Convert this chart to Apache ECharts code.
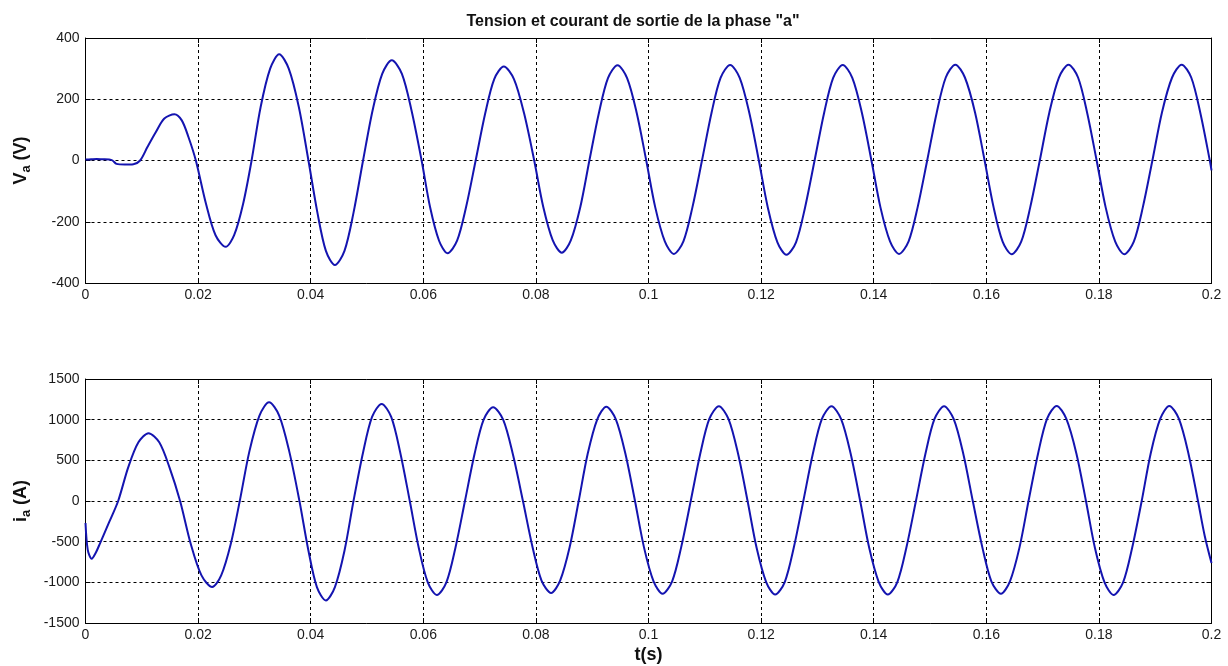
<!DOCTYPE html>
<html>
<head>
<meta charset="utf-8">
<script src="https://cdn.jsdelivr.net/npm/echarts@6/dist/echarts.min.js"></script>
<style>
html,body{margin:0;padding:0;background:#fff;}
#chart{width:1228px;height:666px;}
</style>
</head>
<body>
<div id="chart"></div>
<script>
// Title and axis names
var titleText = 'Tension et courant de sortie de la phase "a"';
var xName = 't(s)';

// Time axis ticks
var xMin = 0, xMax = 0.2, xStep = 0.02;
var vTicks = [-400, -200, 0, 200, 400];
var iTicks = [-1500, -1000, -500, 0, 500, 1000, 1500];

// Voltage V_a (V): [time s, value V]
var voltage = [
  [0,3],[0.001,4],[0.002,5],[0.003,4],[0.0042,3],[0.0048,0],[0.0055,-11],[0.007,-13],[0.0085,-12],[0.0097,0],
  [0.011,44],[0.0125,93],[0.014,137],[0.0158,151],[0.0171,131],[0.0183,76],[0.0196,0],
  [0.0214,-141],[0.0231,-244],[0.0249,-282],[0.0264,-244],[0.0280,-141],[0.0295,0],
  [0.0311,174],[0.0328,300],[0.0344,347],[0.0361,300],[0.0379,174],[0.0396,0],
  [0.0412,-171],[0.0427,-295],[0.0443,-341],[0.0460,-295],[0.0476,-171],[0.0493,0],
  [0.0510,164],[0.0527,283],[0.0544,327],[0.0562,283],[0.0579,164],[0.0597,0],
  [0.0612,-152],[0.0628,-262],[0.0643,-303],[0.0660,-262],[0.0676,-152],[0.0693,0],
  [0.0710,154],[0.0726,266],[0.0743,307],[0.0761,266],[0.0779,154],[0.0797,0],
  [0.0813,-151],[0.0830,-261],[0.0846,-301],[0.0862,-261],[0.0879,-151],[0.0895,0],
  [0.0912,156],[0.0928,269],[0.0945,311],[0.0962,269],[0.0979,156],[0.0996,0],
  [0.1012,-153],[0.1029,-264],[0.1045,-305],[0.1062,-264],[0.1078,-153],[0.1095,0],
  [0.1112,156],[0.1128,270],[0.1145,312],[0.1162,270],[0.1179,156],[0.1196,0],
  [0.1212,-154],[0.1229,-267],[0.1245,-308],[0.1262,-267],[0.1278,-154],[0.1295,0],
  [0.1312,156],[0.1328,270],[0.1345,312],[0.1362,270],[0.1379,156],[0.1396,0],
  [0.1412,-153],[0.1429,-264],[0.1445,-305],[0.1462,-264],[0.1478,-153],[0.1495,0],
  [0.1512,157],[0.1528,271],[0.1545,313],[0.1562,271],[0.1580,157],[0.1597,0],
  [0.1613,-153],[0.1629,-265],[0.1645,-306],[0.1662,-265],[0.1678,-153],[0.1695,0],
  [0.1712,157],[0.1729,271],[0.1746,313],[0.1763,271],[0.1779,157],[0.1796,0],
  [0.1812,-153],[0.1829,-265],[0.1845,-306],[0.1862,-265],[0.1878,-153],[0.1895,0],
  [0.1912,157],[0.1930,271],[0.1947,313],[0.1964,271],[0.1980,157],[0.1997,0],[0.2,-32]
];

// Current i_a (A): [time s, value A]
var current = [
  [0,-271],[0.0004,-600],[0.0011,-710],[0.0018,-640],[0.0026,-517],[0.0042,-260],[0.0058,0],
  [0.0076,417],[0.0094,722],[0.0112,834],[0.0131,722],[0.0149,417],[0.0168,0],
  [0.0187,-529],[0.0206,-915],[0.0225,-1057],[0.0241,-915],[0.0258,-529],[0.0274,0],
  [0.0291,607],[0.0309,1051],[0.0326,1214],[0.0344,1051],[0.0362,607],[0.0380,0],
  [0.0396,-611],[0.0411,-1058],[0.0427,-1222],[0.0443,-1058],[0.0460,-611],[0.0476,0],
  [0.0493,597],[0.0509,1033],[0.0526,1193],[0.0543,1033],[0.0559,597],[0.0576,0],
  [0.0592,-578],[0.0608,-1001],[0.0624,-1156],[0.0641,-1001],[0.0657,-578],[0.0674,0],
  [0.0691,577],[0.0707,998],[0.0724,1153],[0.0742,998],[0.0759,577],[0.0777,0],
  [0.0794,-566],[0.0810,-979],[0.0827,-1131],[0.0843,-979],[0.0860,-566],[0.0876,0],
  [0.0892,580],[0.0909,1005],[0.0925,1160],[0.0942,1005],[0.0959,580],[0.0976,0],
  [0.0992,-570],[0.1009,-987],[0.1025,-1140],[0.1042,-987],[0.1058,-570],[0.1075,0],
  [0.1092,583],[0.1108,1009],[0.1125,1165],[0.1142,1009],[0.1159,583],[0.1176,0],
  [0.1192,-575],[0.1209,-996],[0.1225,-1150],[0.1242,-996],[0.1258,-575],[0.1275,0],
  [0.1292,583],[0.1308,1009],[0.1325,1165],[0.1342,1009],[0.1359,583],[0.1376,0],
  [0.1392,-575],[0.1409,-996],[0.1425,-1150],[0.1442,-996],[0.1458,-575],[0.1475,0],
  [0.1492,583],[0.1508,1009],[0.1525,1165],[0.1542,1009],[0.1559,583],[0.1576,0],
  [0.1593,-570],[0.1609,-987],[0.1626,-1140],[0.1642,-987],[0.1659,-570],[0.1675,0],
  [0.1692,585],[0.1708,1012],[0.1725,1169],[0.1742,1012],[0.1760,585],[0.1777,0],
  [0.1793,-578],[0.1810,-1001],[0.1826,-1156],[0.1843,-1001],[0.1859,-578],[0.1876,0],
  [0.1892,585],[0.1909,1012],[0.1925,1169],[0.1942,1012],[0.1959,585],[0.1976,0],
  [0.1988,-430],[0.2,-763]
];

var FONT = '"Liberation Sans", Arial, sans-serif';
var lineColor = '#1414b0';

function xLabel(v){ return String(+(+v).toFixed(3)); }
function yLabel(v){ return String(Math.round(v)); }

var axisLineStyle = {show:true, onZero:false, lineStyle:{color:'#000', width:1}};
var gridLineStyle = {show:true, lineStyle:{color:'#000', width:1, type:[3,3]}};
var tickStyle = {show:true, inside:true, length:5, lineStyle:{color:'#000'}};

function mainX(gi, showName){
  return {
    type:'value', gridIndex:gi, min:xMin, max:xMax, interval:xStep,
    axisLine:axisLineStyle, axisTick:tickStyle,
    axisLabel:{color:'#1a1a1a', fontSize:14, fontFamily:FONT, margin:5, formatter:xLabel},
    splitLine:gridLineStyle,
    name: showName ? xName : '',
    nameLocation:'middle', nameGap:23,
    nameTextStyle:{color:'#111', fontSize:18, fontWeight:'bold', fontFamily:FONT}
  };
}
function topX(gi){
  return {
    type:'value', gridIndex:gi, position:'top', min:xMin, max:xMax, interval:xStep,
    axisLine:axisLineStyle, axisTick:tickStyle,
    axisLabel:{show:false}, splitLine:{show:false}
  };
}
function mainY(gi, ticks, nameRich){
  return {
    type:'value', gridIndex:gi, min:ticks[0], max:ticks[ticks.length-1], interval:ticks[1]-ticks[0],
    axisLine:axisLineStyle, axisTick:tickStyle,
    axisLabel:{color:'#1a1a1a', fontSize:14, fontFamily:FONT, margin:6, formatter:yLabel},
    splitLine:gridLineStyle,
    name:nameRich, nameLocation:'middle', nameGap:52, nameRotate:90,
    nameTextStyle:{
      color:'#111', fontSize:18, fontWeight:'bold', fontFamily:FONT,
      rich:{
        b:{fontSize:18, fontWeight:'bold', fontFamily:FONT, color:'#111', lineHeight:24},
        s:{fontSize:13, fontWeight:'bold', fontFamily:FONT, color:'#111', padding:[10,0,0,0], lineHeight:24}
      }
    }
  };
}
function rightY(gi, ticks){
  return {
    type:'value', gridIndex:gi, position:'right', min:ticks[0], max:ticks[ticks.length-1], interval:ticks[1]-ticks[0],
    axisLine:axisLineStyle, axisTick:tickStyle,
    axisLabel:{show:false}, splitLine:{show:false}
  };
}

var chart = echarts.init(document.getElementById('chart'), null, {renderer:'canvas'});
chart.setOption({
  backgroundColor:'#fff',
  animation:false,
  title:{
    text:titleText, left:628, textAlign:'center', top:9,
    textStyle:{fontSize:16, fontWeight:'bold', fontFamily:FONT, color:'#111'}
  },
  grid:[
    {left:85.5, right:16.5, top:38, height:245},
    {left:85.5, right:16.5, top:379, height:244}
  ],
  xAxis:[ mainX(0,false), mainX(1,true), topX(0), topX(1) ],
  yAxis:[
    mainY(0, vTicks, '{b|V}{s|a}{b| (V)}'),
    mainY(1, iTicks, '{b|i}{s|a}{b| (A)}'),
    rightY(0, vTicks), rightY(1, iTicks)
  ],
  series:[
    {type:'line', xAxisIndex:0, yAxisIndex:0, data:voltage, smooth:0.3, showSymbol:false,
     lineStyle:{color:lineColor, width:2}},
    {type:'line', xAxisIndex:1, yAxisIndex:1, data:current, smooth:0.3, showSymbol:false,
     lineStyle:{color:lineColor, width:2}}
  ]
});
</script>
</body>
</html>
